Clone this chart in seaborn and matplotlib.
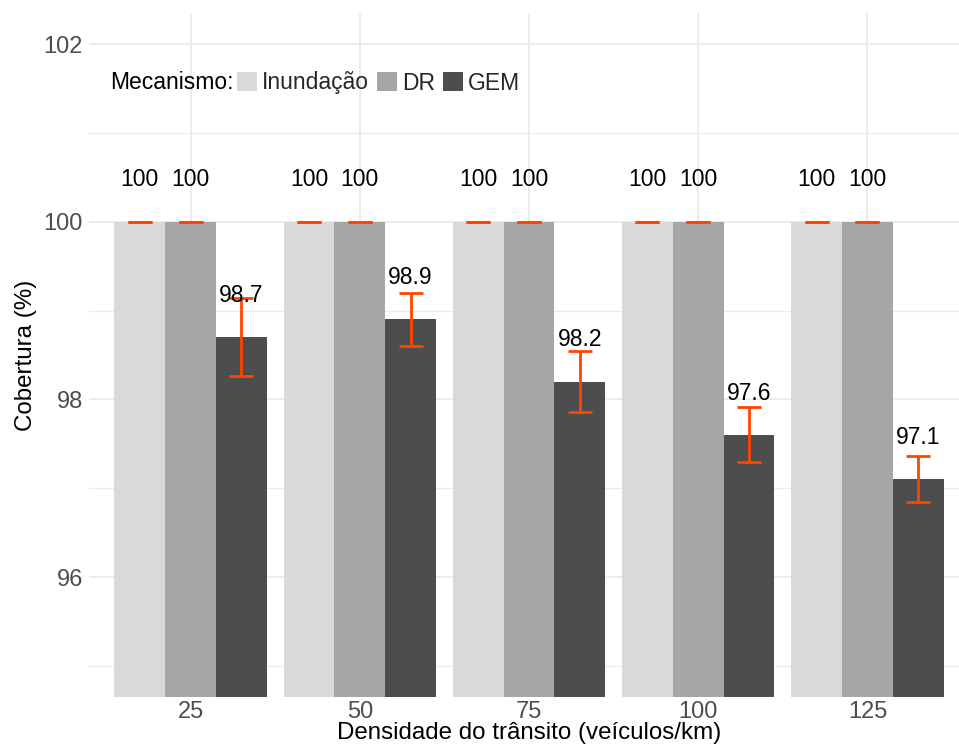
import matplotlib
matplotlib.use("Agg")
import matplotlib.pyplot as plt
import seaborn as sns
import pandas as pd
import numpy as np
from matplotlib.patches import Patch
from matplotlib.ticker import MultipleLocator

# Coverage (%) by traffic density for each dissemination mechanism
densidade = ["25", "50", "75", "100", "125"]
mecanismos = ["Inundação", "DR", "GEM"]
cob_inundacao = [100, 100, 100, 100, 100]
cob_dr = [100, 100, 100, 100, 100]
cob_gem = [98.7, 98.9, 98.2, 97.6, 97.1]
dp_inundacao = [0, 0, 0, 0, 0]
dp_dr = [0, 0, 0, 0, 0]
dp_gem = [0.44, 0.30, 0.34, 0.31, 0.26]

cores = ["#D9D9D9", "#A6A6A6", "#4D4D4D"]
laranja = "#FF4500"

df = pd.DataFrame({
    "densidade": densidade * 3,
    "mecanismo": [m for m in mecanismos for _ in densidade],
    "cobertura": cob_inundacao + cob_dr + cob_gem,
    "dp": dp_inundacao + dp_dr + dp_gem,
})

sns.set_theme(style="whitegrid")
plt.rcParams["font.family"] = ["Liberation Sans", "DejaVu Sans"]

W, H = 959, 747
fig = plt.figure(figsize=(W / 100, H / 100), dpi=100)
# the panel runs slightly past the right edge of the canvas
left_px, right_px, top_px, bottom_px = 89, 969, 13, 697
ax = fig.add_axes([left_px / W, 1 - bottom_px / H,
                   (right_px - left_px) / W, (bottom_px - top_px) / H])

sns.barplot(data=df, x="densidade", y="cobertura", hue="mecanismo",
            order=densidade, hue_order=mecanismos, palette=cores,
            width=0.9, errorbar=None, saturation=1, linewidth=0,
            legend=False, ax=ax)

# error bars and value labels at the centre of each bar
for i, m in enumerate(mecanismos):
    sub = df[df["mecanismo"] == m].set_index("densidade").loc[densidade]
    xs = np.arange(len(densidade)) + (i - 1) * 0.3
    ax.errorbar(xs, sub["cobertura"], yerr=sub["dp"], fmt="none",
                ecolor=laranja, elinewidth=2, capsize=8.3, capthick=2,
                zorder=5)
    for x, v in zip(xs, sub["cobertura"]):
        ax.text(x, v + 0.5, f"{v:g}", ha="center", va="center_baseline",
                fontsize=16.5, color="black", zorder=6)

ax.set_xlim(-0.6, 4.6)
ax.set_ylim(94.65, 102.35)
ax.yaxis.set_minor_locator(MultipleLocator(1))
ax.set_yticks([96, 98, 100, 102])

ax.grid(which="major", color="#EBEBEB", linewidth=1.3)
ax.grid(which="minor", axis="y", color="#EBEBEB", linewidth=0.8)
ax.set_axisbelow(True)
for s in ax.spines.values():
    s.set_visible(False)

ax.tick_params(axis="both", which="both", length=0, labelsize=17,
               labelcolor="#4D4D4D")
ax.tick_params(axis="x", pad=3.0)
ax.tick_params(axis="y", pad=4.3)

ax.set_xlabel("Densidade do trânsito (veículos/km)", fontsize=17.4,
              color="black", labelpad=-1.2)
ax.set_ylabel("Cobertura (%)", fontsize=17.4, color="black", labelpad=4.5)

# legend row inside the panel, title to the left of the keys
leg_y = 1 - 83 / H
fig.text(110 / W, leg_y + 3 / H, "Mecanismo:", ha="left",
         va="center_baseline", fontsize=16.5, color="black")
handles = [Patch(facecolor=c, edgecolor="none", label=m)
           for c, m in zip(cores, mecanismos)]
ax.legend(handles=handles, loc="center left",
          bbox_to_anchor=(237 / W, leg_y), bbox_transform=fig.transFigure,
          ncol=3, frameon=False, fontsize=16.5, borderpad=0,
          borderaxespad=0, handlelength=0.87, handleheight=0.87,
          handletextpad=0.22, columnspacing=0.35)

fig.savefig("out.png", dpi=100)
